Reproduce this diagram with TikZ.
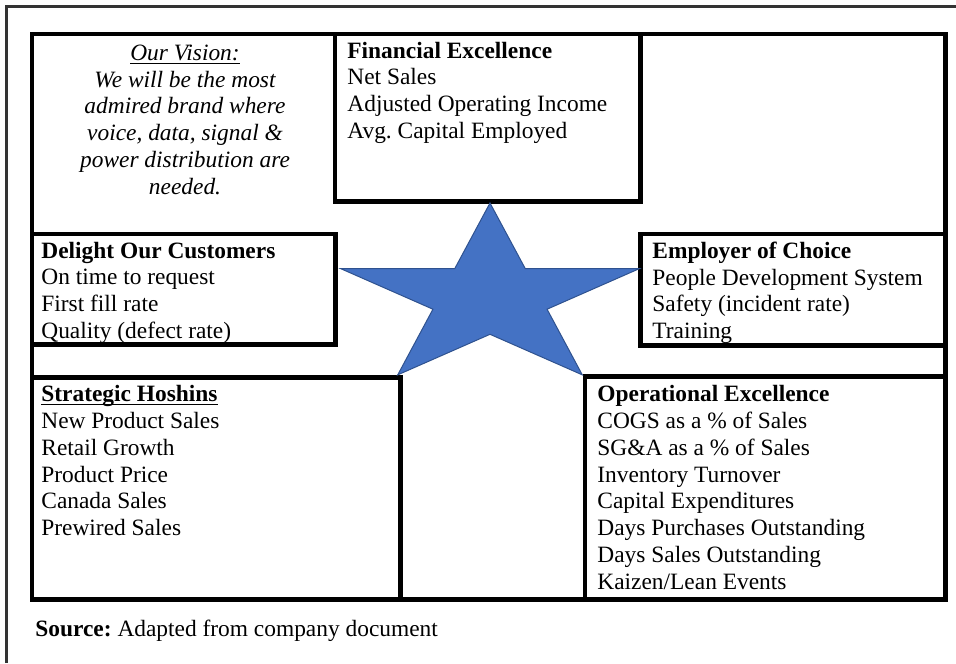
\documentclass[tikz,border=0pt]{standalone}
\usepackage{fontspec}
\setmainfont{Liberation Serif}
\frenchspacing
\usetikzlibrary{positioning, calc}
\definecolor{starblue}{HTML}{4472C4}
\definecolor{starline}{HTML}{2F528F}
\newcommand{\hdul}[1]{\underline{\smash{#1}}\vphantom{#1}}
\tikzset{
  box/.style={draw, line width=2.25pt, inner sep=0pt, outer sep=0pt, anchor=north west},
  txt/.style={inner sep=0pt, align=left, anchor=north west, font=\fontsize{11.7}{13.4}\selectfont},
  starfill/.style={fill=starblue, draw=starline, line width=0.5pt, line join=miter},
}
\begin{document}
\begin{tikzpicture}[x=0.5pt, y=-0.5pt]
\useasboundingbox (0,0) rectangle (956,663);
% page frame
\draw[black!80, line width=1.5pt] (6.5,663) -- (6.5,6.5) -- (956,6.5);
% boxes
\node[box, minimum width=456.75pt, minimum height=282.75pt] (frame) at (32,34) {};
\node[box, minimum width=152.75pt, minimum height=83.75pt] (fin) at (335,34) {};
\node[box, minimum width=151.75pt, minimum height=55.25pt] (cust) at (32,234) {};
\node[box, minimum width=152.5pt, minimum height=55.75pt] (empl) at (640.5,234) {};
\node[box, minimum width=184.25pt, minimum height=111pt] (hosh) at (32,377.5) {};
\node[box, minimum width=180.25pt, minimum height=111.5pt] (oper) at (585,376.5) {};
% star
\coordinate (sc) at (490,298);
\filldraw[starfill] ($(sc)+(270:157 and 95)$)
  \foreach \a/\rx/\ry in {234/60/36.3,198/157/95,162/60/36.3,126/157/95,90/60/36.3,54/157/95,18/60/36.3,342/157/95,306/60/36.3} {
    -- ($(sc)+(\a:{\rx} and {\ry})$)
  } -- cycle;
% texts
\node[txt, align=center, anchor=north, font=\fontsize{11.7}{13.4}\selectfont\itshape] (vision) at (185,44.5)
  {\hdul{Our Vision:}\\ We will be the most\\ admired brand where\\ voice, data, signal \&\\ power distribution are\\ needed.};
\node[txt] (fintxt) at ([shift={(12,7.5)}]fin.north west)
  {\textbf{Financial Excellence}\\ Net Sales\\ Adjusted Operating Income\\ Avg. Capital Employed};
\node[txt] (custtxt) at ([shift={(9,7.5)}]cust.north west)
  {\textbf{Delight Our Customers}\\ On time to request\\ First fill rate\\ Quality (defect rate)};
\node[txt] (empltxt) at ([shift={(11.5,7.5)}]empl.north west)
  {\textbf{Employer of Choice}\\ People Development System\\ Safety (incident rate)\\ Training};
\node[txt] (hoshtxt) at ([shift={(9,7.5)}]hosh.north west)
  {\textbf{\hdul{Strategic Hoshins}}\\ New Product Sales\\ Retail Growth\\ Product Price\\ Canada Sales\\ Prewired Sales};
\node[txt] (opertxt) at ([shift={(12,8.5)}]oper.north west)
  {\textbf{Operational Excellence}\\ COGS as a \% of Sales\\ SG\&A as a \% of Sales\\ Inventory Turnover\\ Capital Expenditures\\ Days Purchases Outstanding\\ Days Sales Outstanding\\ Kaizen/Lean Events};
\node[txt, anchor=base west] (src) at (35,636) {\textbf{Source:} Adapted from company document};
\end{tikzpicture}
\end{document}
